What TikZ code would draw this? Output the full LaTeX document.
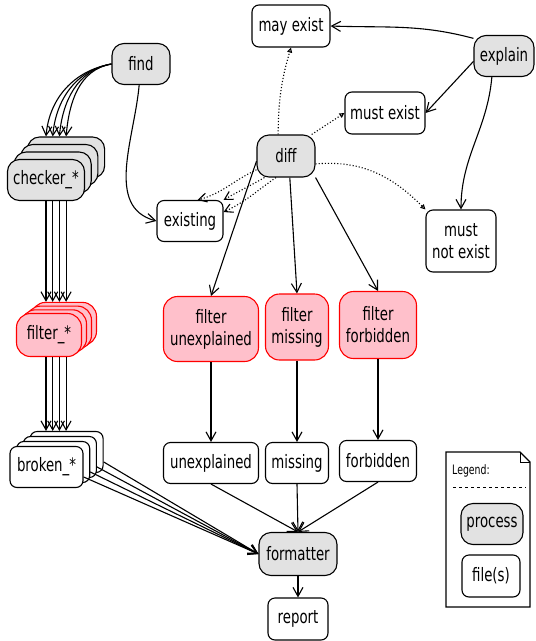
\documentclass[tikz,border=0pt]{standalone}
\usepackage{fontspec}
\setmainfont{DejaVu Sans}[FakeStretch=0.72]
\usetikzlibrary{arrows.meta}
\definecolor{procgray}{HTML}{E2E2E2}
\definecolor{filterpink}{HTML}{FFC0CB}
\begin{document}
\begin{tikzpicture}[
        x=1pt, y=1pt,
        every node/.style={font=\fontsize{18.5}{22}\selectfont, inner sep=0pt, align=center},
        process/.style={draw, line width=1.1pt, rounded corners=12pt, fill=procgray, minimum height=41pt},
        file/.style={draw, line width=1.1pt, rounded corners=7pt, fill=white, minimum height=41pt},
        filter/.style={draw=red, line width=1.1pt, rounded corners=14pt, fill=filterpink},
        flow/.style={draw, line width=1.1pt, -{Straight Barb[length=9pt,width=10pt]}},
        lookup/.style={draw, line width=1.1pt, dotted, -{Triangle[open,length=5pt,width=5pt]}},
        lookup vee/.style={draw, line width=1.1pt, dotted, -{Straight Barb[length=8pt,width=9pt]}}
    ]
	\useasboundingbox (0,0) rectangle (536,-641);

	\node[process, minimum width=58pt] (find) at (141,-64) {find};
	\node[file, minimum width=78pt, minimum height=42pt] (may_exist) at (291,-26) {may exist};
	\node[process, minimum width=60pt] (explain) at (504,-56) {explain};
	\node[file, minimum width=80pt, minimum height=42pt] (must_exist) at (385,-113) {must exist};
	\node[process, minimum width=58pt, minimum height=42pt] (diff) at (286,-156) {diff};
	\node[file, minimum width=66pt] (existing) at (190,-221) {existing};
	\node[file, minimum width=70pt, minimum height=62pt] (must_not) at (461,-241) {must\\not exist};

	% stacked copies, back to front
	\foreach \i in {3,2,1}
		\node[process, minimum width=77pt] (checker_\i) at ({46+6.7*\i},{-180+7.5*\i}) {};
	\node[process, minimum width=77pt] (checker_0) at (46,-180) {checker\_*};
	\foreach \i in {3,2,1}
		\node[filter, minimum width=65pt, minimum height=43pt] (filter_\i) at ({49+5*\i},{-335+3.7*\i}) {};
	\node[filter, minimum width=65pt, minimum height=43pt] (filter_0) at (49,-335) {filter\_*};
	\foreach \i in {3,2,1}
		\node[file, minimum width=73pt] (broken_\i) at ({46.5+6.7*\i},{-467+5*\i}) {};
	\node[file, minimum width=73pt] (broken_0) at (46.5,-467) {broken\_*};

	\node[filter, minimum width=95pt, minimum height=65pt] (filter_unx) at (211,-329) {filter\\unexplained};
	\node[filter, minimum width=63pt, minimum height=66pt] (filter_mis) at (297,-327) {filter\\missing};
	\node[filter, minimum width=77pt, minimum height=67pt] (filter_fbd) at (378,-325) {filter\\forbidden};
	\node[file, minimum width=95pt] (unexplained) at (211,-463) {unexplained};
	\node[file, minimum width=63pt] (missing) at (297,-463) {missing};
	\node[file, minimum width=77pt] (forbidden) at (378,-461) {forbidden};
	\node[process, minimum width=78pt, minimum height=43pt] (formatter) at (298,-554) {formatter};
	\node[file, minimum width=60pt, minimum height=42pt] (report) at (298,-619) {report};

	\foreach \i in {0,...,3} {
		\draw[flow] (find.west) to[out=190, in=85] (checker_\i.north |- checker_3.north);
		\draw[flow] (checker_\i.south |- checker_0.south) -- (checker_\i.south |- filter_3.north);
		\draw[flow] (checker_\i.south |- filter_0.south) -- (checker_\i.south |- broken_3.north);
		\draw[flow] (broken_\i.-15) -- (formatter.west);
	}
	\draw[flow] (find.265) to[out=265, in=165] (existing.west);
	\draw[flow] (explain.150) to[out=165, in=-2] (may_exist.east);
	\draw[flow] (explain.190) -- (must_exist.east);
	\draw[flow] (explain.240) to[out=265, in=90] (must_not.north);

	\draw[lookup] (diff.110) to[bend left=8] (may_exist.south);
	\draw[lookup] (diff.40) -- (must_exist.west);
	\draw[lookup] (diff.-15) to[out=5, in=135] (must_not.north west);
	\draw[lookup vee] (diff.205) to[out=205, in=15] (existing.70);
	\draw[lookup vee] (diff.225) to[out=210, in=30] (existing.north east);
	\draw[lookup vee] (diff.245) to[out=215, in=25] (existing.15);

	\draw[flow] (diff.190) -- (filter_unx.north);
	\draw[flow] (diff.-80) -- (filter_mis.north);
	\draw[flow] (diff.south east) -- (filter_fbd.north);
	\draw[flow] (filter_unx) -- (unexplained);
	\draw[flow] (filter_mis) -- (missing);
	\draw[flow] (filter_fbd) -- (forbidden);
	\draw[flow] (unexplained.south) -- (formatter.north);
	\draw[flow] (missing.south) -- (formatter.north);
	\draw[flow] (forbidden.south) -- (formatter.north);
	\draw[flow] (formatter) -- (report);

	% legend
	\draw[line width=1.1pt, fill=white] (446,-452) -- (520,-452) -- (530,-462) -- (530,-607) -- (446,-607) -- cycle;
	\draw[line width=0.8pt] (520,-452) -- (520,-462) -- (530,-462);
	\node[font=\fontsize{13}{15}\selectfont, anchor=west] (legend) at (452,-471) {Legend:};
	\draw[line width=0.8pt, dashed] (453,-487) -- (526,-487);
	\node[process, minimum width=62pt] (key_process) at (492,-524) {process};
	\node[file, minimum width=58pt, minimum height=42pt] (key_file) at (491,-576) {file(s)};
\end{tikzpicture}
\end{document}
